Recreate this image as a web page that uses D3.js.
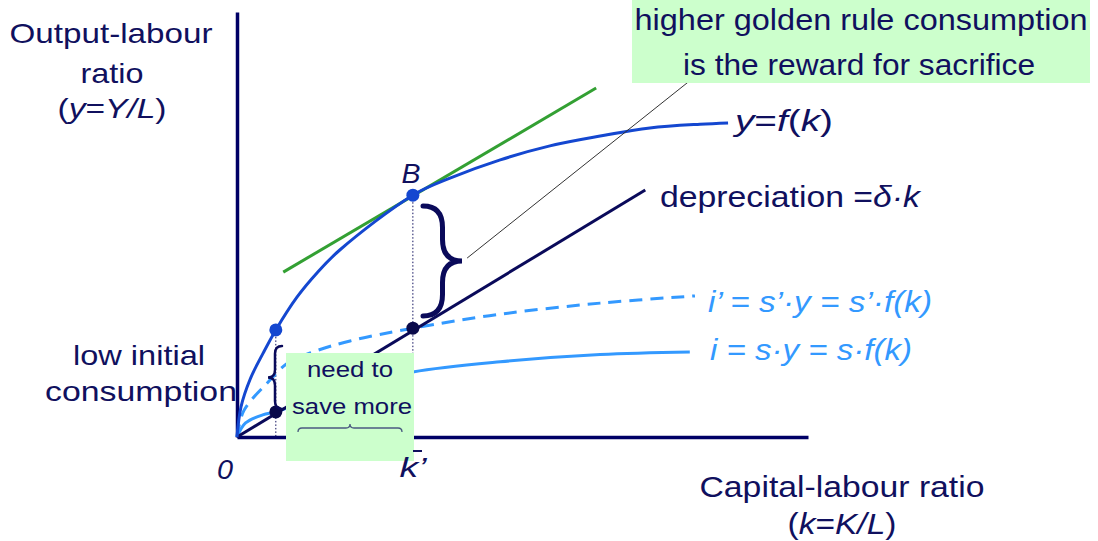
<!DOCTYPE html>
<html>
<head>
<meta charset="utf-8">
<script src="https://cdn.jsdelivr.net/npm/d3@7"></script>
<style>
  html, body { margin: 0; padding: 0; background: #fff; }
  text { font-family: "Liberation Sans", Arial, sans-serif; }
</style>
</head>
<body>
<svg id="chart"></svg>
<script>
// Production function y = f(k)
const fK = [0, 0.07, 0.23, 0.46, 0.68, 1.05, 1.40, 1.80, 3.08, 3.73, 4.61, 5.48, 6.36, 7.23, 8.11, 8.60];
const fY = [0, 0.71, 1.36, 1.98, 2.52, 3.29, 3.86, 4.40, 5.69, 6.09, 6.52, 6.85, 7.08, 7.27, 7.36, 7.39];

// Higher investment i' = s'·f(k) (dashed)
const iHighK = [0, 0.12, 0.53, 0.89, 1.33, 1.98, 3.08, 4.61, 6.36, 8.02];
const iHighY = [0, 0.62, 1.27, 1.74, 2.00, 2.26, 2.56, 2.89, 3.15, 3.32];

// Initial investment i = s·f(k)
const iLowK = [0, 0.15, 0.45, 0.68, 1.10, 1.98, 3.08, 4.61, 6.36, 7.93];
const iLowY = [0, 0.33, 0.52, 0.59, 0.80, 1.18, 1.53, 1.77, 1.94, 2.00];

// Depreciation line and tangent at the golden rule
const depK = [0, 7.15];
const depY = [0, 5.81];
const tanK = [0.81, 6.29];
const tanY = [3.88, 8.21];
const pointerK = [4.03, 7.90];
const pointerY = [4.21, 8.35];

// Steady states: initial and golden rule
const ssK = [0.68, 3.08];
const ssOutput = [2.52, 5.69];
const ssDep = [0.59, 2.56];

const W = 1098, H = 541;
const navy = "#10105e";
const blue = "#1447d0";
const light = "#3399ff";

const svg = d3.select("#chart").attr("width", W).attr("height", H);

const x = d3.scaleLinear().domain([0, 10]).range([237, 808]);
const y = d3.scaleLinear().domain([0, 10]).range([437, 12]);

const zip = (ks, ys) => ks.map((k, i) => [k, ys[i]]);
const line = d3.line().x(d => x(d[0])).y(d => y(d[1]));
const smooth = d3.line().x(d => x(d[0])).y(d => y(d[1])).curve(d3.curveCatmullRom.alpha(0.5));

// axes without ticks
svg.append("g").attr("transform", `translate(0,${y(0)})`)
    .call(d3.axisBottom(x).tickValues([]).tickSizeOuter(0));
svg.append("g").attr("transform", `translate(${x(0)},0)`)
    .call(d3.axisLeft(y).tickValues([]).tickSizeOuter(0));
svg.selectAll(".domain").attr("stroke", "#000066").attr("stroke-width", 3.5);

// dotted guides
ssK.forEach((k, i) => {
    svg.append("line")
        .attr("x1", x(k)).attr("x2", x(k))
        .attr("y1", y(ssOutput[i])).attr("y2", y(0))
        .attr("stroke", navy).attr("stroke-width", 1)
        .attr("stroke-dasharray", "1.5,2");
});

// curves
svg.append("path").datum(zip(iLowK, iLowY)).attr("d", smooth)
    .attr("fill", "none").attr("stroke", light).attr("stroke-width", 3);
svg.append("path").datum(zip(iHighK, iHighY)).attr("d", smooth)
    .attr("fill", "none").attr("stroke", light).attr("stroke-width", 3)
    .attr("stroke-dasharray", "13,8");
svg.append("path").datum(zip(depK, depY)).attr("d", line)
    .attr("fill", "none").attr("stroke", "#0a0a5a").attr("stroke-width", 3);
svg.append("path").datum(zip(tanK, tanY)).attr("d", line)
    .attr("fill", "none").attr("stroke", "#33a033").attr("stroke-width", 3);
svg.append("path").datum(zip(fK, fY)).attr("d", smooth)
    .attr("fill", "none").attr("stroke", blue).attr("stroke-width", 3);
svg.append("path").datum(zip(pointerK, pointerY)).attr("d", line)
    .attr("fill", "none").attr("stroke", "#333").attr("stroke-width", 1);

// dots
svg.selectAll(".dotF").data(ssK).enter().append("circle")
    .attr("cx", d => x(d)).attr("cy", (d, i) => y(ssOutput[i]))
    .attr("r", 6.5).attr("fill", blue);
svg.selectAll(".dotD").data(ssK).enter().append("circle")
    .attr("cx", d => x(d)).attr("cy", (d, i) => y(ssDep[i]))
    .attr("r", 6.5).attr("fill", "#0a0a4a");

// braces: vertical, w > 0 points right, w < 0 points left
function vBrace(x0, y1, y2, w, sw, color) {
    const ym = (y1 + y2) / 2, xm = x0 + w * 0.5, r = Math.abs(w) * 0.55;
    const d = `M${x0},${y1} Q${xm},${y1} ${xm},${y1 + r} L${xm},${ym - r} Q${xm},${ym} ${x0 + w},${ym}` +
        ` Q${xm},${ym} ${xm},${ym + r} L${xm},${y2 - r} Q${xm},${y2} ${x0},${y2}`;
    svg.append("path").attr("d", d).attr("fill", "none")
        .attr("stroke", color).attr("stroke-width", sw).attr("stroke-linecap", "round");
}
function hBrace(x1, x2, y0, h, sw, color) {
    const xm = (x1 + x2) / 2, ymid = y0 - h * 0.5, r = h * 0.5;
    const d = `M${x1},${y0} Q${x1},${ymid} ${x1 + r},${ymid} L${xm - r},${ymid} Q${xm},${ymid} ${xm},${y0 - h}` +
        ` Q${xm},${ymid} ${xm + r},${ymid} L${x2 - r},${ymid} Q${x2},${ymid} ${x2},${y0}`;
    svg.append("path").attr("d", d).attr("fill", "none")
        .attr("stroke", color).attr("stroke-width", sw);
}
vBrace(423, 206, 316, 39, 5, "#0a0a5a");
vBrace(282, 346, 409, -14, 2.5, "#0a0a5a");

// green boxes
svg.append("rect").attr("x", 632).attr("y", 0).attr("width", 458).attr("height", 83).attr("fill", "#ccffcc");
svg.append("rect").attr("x", 286).attr("y", 353).attr("width", 128).attr("height", 108).attr("fill", "#ccffcc");
hBrace(298, 402, 432, 8, 1.3, "#4a5a80");

// text helper: parts = [[string, italic], ...]
function label(parts, px, py, width, size, color, anchor) {
    const t = svg.append("text")
        .attr("x", px).attr("y", py)
        .attr("font-size", size).attr("fill", color)
        .attr("text-anchor", anchor || "middle");
    if (width) t.attr("textLength", width).attr("lengthAdjust", "spacingAndGlyphs");
    parts.forEach(p => {
        t.append("tspan").text(p[0]).attr("font-style", p[1] ? "italic" : "normal");
    });
    return t;
}

label([["Output-labour"]], 111, 43, 203, 28, navy);
label([["ratio"]], 112, 83, 63, 28, navy);
label([["("], ["y", 1], ["="], ["Y/L", 1], [")"]], 112, 118, 109, 28, navy);
label([["low initial"]], 139, 365, 132, 28, navy);
label([["consumption"]], 141, 401, 192, 28, navy);
label([["0", 1]], 225, 479, 16, 28, navy);
label([["k’", 1]], 413, 477, 27, 28, navy);
svg.append("line").attr("x1", 413).attr("x2", 422).attr("y1", 451).attr("y2", 451)
    .attr("stroke", navy).attr("stroke-width", 2);
label([["B", 1]], 411, 183, 19, 28, navy);
label([["Capital-labour ratio"]], 842, 497, 285, 29, navy);
label([["("], ["k", 1], ["="], ["K/L", 1], [")"]], 842, 534, 109, 29, navy);
label([["y", 1], ["="], ["f", 1], ["("], ["k", 1], [")"]], 735, 131, 98, 29, navy, "start");
label([["depreciation ="], ["δ·k", 1]], 660, 207, 260, 29, navy, "start");
label([["i’ = s’·y = s’·f(k)", 1]], 708, 312, 224, 29, light, "start");
label([["i = s·y = s·f(k)", 1]], 710, 360, 202, 29, light, "start");
label([["higher golden rule consumption"]], 861, 30, 453, 29, navy);
label([["is the reward for sacrifice"]], 859, 75, 352, 29, navy);
label([["need to"]], 350, 377, 86, 22, navy);
label([["save more"]], 352, 414, 120, 22, navy);
</script>
</body>
</html>
